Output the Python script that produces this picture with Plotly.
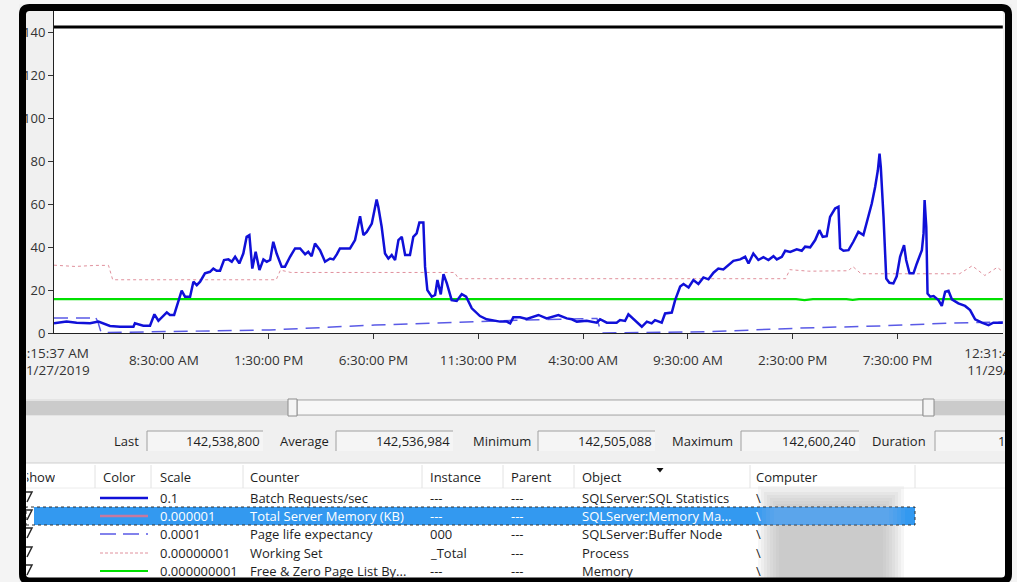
import plotly.graph_objects as go
import pandas as pd

# ------------------------------------------------------------------ data
log_start = "2019-11-27 03:15:37"
log_end = "2019-11-29 00:31:47"

# Batch Requests/sec (scale 0.1) - elapsed hours since log start, scaled value
batch_hours = [0.0, 0.60, 1.08, 1.72, 2.12, 2.35, 2.67, 3.15, 3.79, 3.86, 4.10, 4.26, 4.58, 4.66, 4.79,
               4.98, 5.22, 5.38, 5.53, 5.73, 5.85, 6.09, 6.25, 6.49, 6.65, 6.81, 6.97, 7.20, 7.44, 7.60,
               7.76, 7.92, 8.11, 8.32, 8.48, 8.64, 8.84, 9.03, 9.19, 9.32, 9.46, 9.62, 9.80, 9.99, 10.15,
               10.31, 10.46, 10.62, 10.86, 11.02, 11.26, 11.50, 11.74, 11.98, 12.13, 12.29, 12.45, 12.69,
               12.93, 13.17, 13.33, 13.49, 13.64, 14.12, 14.36, 14.60, 14.76, 14.92, 15.16, 15.39, 15.47,
               15.63, 15.79, 15.95, 16.11, 16.27, 16.43, 16.59, 16.75, 16.98, 17.14, 17.30, 17.43, 17.62,
               17.70, 17.81, 18.02, 18.18, 18.29, 18.45, 18.58, 18.74, 18.97, 19.21, 19.45, 19.66, 19.93,
               20.32, 20.64, 20.96, 21.28, 21.60, 21.76, 21.91, 22.23, 22.55, 23.11, 23.50, 24.06, 24.46,
               24.70, 24.94, 25.41, 25.89, 26.05, 26.37, 26.84, 27.00, 27.24, 27.40, 27.64, 28.04, 28.28,
               28.51, 28.67, 28.99, 29.15, 29.47, 29.63, 29.87, 30.03, 30.27, 30.50, 30.74, 30.98, 31.22,
               31.46, 31.69, 31.93, 32.18, 32.41, 32.73, 32.97, 33.13, 33.36, 33.60, 33.84, 34.08, 34.32,
               34.48, 34.72, 34.88, 35.12, 35.43, 35.67, 35.83, 36.07, 36.31, 36.51, 36.67, 36.86, 37.02,
               37.26, 37.42, 37.50, 37.66, 37.90, 38.13, 38.37, 38.61, 38.77, 39.01, 39.17, 39.30, 39.38,
               39.44, 39.57, 39.70, 39.85, 40.04, 40.20, 40.36, 40.55, 40.65, 40.81, 41.00, 41.16, 41.29,
               41.40, 41.48, 41.53, 41.61, 41.67, 41.80, 41.96, 42.19, 42.35, 42.51, 42.67, 42.83, 43.14,
               43.46, 43.70, 43.94, 44.26, 44.58, 44.81, 45.26]
batch_values = [4.5, 5.3, 4.8, 4.5, 5.3, 4.5, 3.3, 2.9, 2.9, 4.5, 3.8, 3.4, 3.4, 5.3, 8.7,
                5.7, 7.9, 9.6, 8.4, 8.4, 12.2, 19.7, 16.9, 16.9, 23.9, 22.3, 23.9, 27.8, 28.5, 30.0,
                29.0, 29.0, 34.0, 34.3, 33.2, 35.5, 32.4, 37.0, 44.8, 45.6, 30.0, 37.8, 29.3, 34.3, 33.2,
                34.0, 42.5, 37.0, 30.9, 30.9, 35.5, 39.4, 39.4, 36.7, 37.8, 35.8, 41.7, 38.6,
                33.2, 34.7, 34.3, 36.6, 39.4, 39.4, 43.3, 54.4, 45.6, 47.1, 51.0, 62.2, 58.8,
                49.5, 37.0, 34.7, 36.3, 34.0, 43.3, 44.8, 36.3, 36.3, 44.8, 46.4, 51.5, 51.5,
                30.9, 20.0, 16.9, 17.7, 24.7, 18.0, 27.4, 23.1, 15.3, 14.9, 18.1, 16.9, 11.5,
                7.9, 6.4, 5.7, 5.3, 5.3, 4.5, 7.3, 7.3, 6.5, 8.4, 6.8, 8.4, 6.8,
                6.4, 5.3, 5.7, 4.8, 6.4, 4.8, 4.8, 6.0, 5.6, 8.7, 6.4, 2.9, 5.3,
                4.5, 6.0, 4.8, 9.1, 9.5, 15.3, 21.6, 22.8, 21.2, 24.7, 22.8, 25.9, 25.0,
                28.1, 30.0, 29.6, 31.6, 33.6, 34.3, 35.5, 32.4, 37.0, 34.0, 35.3, 34.0, 35.8,
                34.3, 35.5, 38.3, 37.8, 39.0, 38.3, 40.2, 39.9, 43.3, 47.9, 44.8, 45.1, 54.1,
                58.0, 58.8, 39.4, 38.3, 38.6, 42.5, 47.1, 45.6, 51.0, 60.3, 68.0, 75.8, 83.6,
                77.4, 54.1, 25.4, 23.4, 23.1, 26.4, 35.5, 40.9, 34.0, 27.8, 27.8, 32.4, 35.5,
                38.6, 46.4, 61.9, 49.5, 18.4, 16.9, 17.2, 15.3, 12.6, 19.2, 19.7, 15.7, 13.8,
                12.6, 10.7, 6.4, 4.8, 3.7, 4.8, 4.8]

# Page life expectancy (scale 0.0001)
ple_hours = [0.0, 1.8, 1.95, 2.1, 2.25, 5.3, 10.3, 15.3, 20.3, 22.2, 25.9, 26.0, 26.1, 28.9, 31.3,
             35.6, 39.4, 42.7, 45.26]
ple_values = [7.0, 7.0, 8.0, 5.0, 0.2, 0.6, 1.4, 3.7, 5.3, 6.0, 6.8, 3.0, 0.0, 0.3, 0.6,
              2.3, 3.3, 4.6, 5.1]

# Working Set (scale 0.00000001)
ws_hours = [0.0, 1.0, 2.0, 2.6, 2.8, 6.0, 10.6, 10.8, 11.3, 15.0, 19.1, 19.3, 25.0, 34.9, 35.1,
            36.0, 37.9, 38.1, 38.5, 42.6, 43.2, 43.8, 44.4, 45.0, 45.26]
ws_values = [31.6, 31.0, 31.5, 31.5, 24.8, 24.8, 24.8, 29.3, 28.2, 28.2, 28.2, 25.3, 25.3, 25.3, 29.5,
             28.8, 29.0, 31.0, 27.6, 27.6, 27.6, 31.3, 26.8, 30.6, 28.5]

# Free & Zero Page List Bytes (scale 0.000000001)
free_hours = [0.0, 35.4, 35.8, 36.2, 37.8, 38.1, 38.4, 45.26]
free_values = [15.8, 15.8, 15.3, 15.8, 15.8, 15.4, 15.8, 15.8]

# Total Server Memory (KB) (scale 0.000001) - highlighted counter
tsm_hours = [0.0, 9.0, 18.0, 27.0, 36.0, 45.26]
tsm_kb = [142560000, 142505088, 142548000, 142600240, 142530000, 142538800]

x_tick_times = ["2019-11-27 08:30", "2019-11-27 13:30", "2019-11-27 18:30", "2019-11-27 23:30",
                "2019-11-28 04:30", "2019-11-28 09:30", "2019-11-28 14:30", "2019-11-28 19:30"]
x_tick_labels = ["8:30:00 AM", "1:30:00 PM", "6:30:00 PM", "11:30:00 PM",
                 "4:30:00 AM", "9:30:00 AM", "2:30:00 PM", "7:30:00 PM"]
edge_tick_labels = ["3:15:37 AM<br>11/27/2019", "12:31:47 AM<br>11/29/2019"]
y_ticks = [0, 20, 40, 60, 80, 100, 120, 140]

stat_labels = ["Last", "Average", "Minimum", "Maximum", "Duration"]
stat_values = ["142,538,800", "142,536,984", "142,505,088", "142,600,240", "1:21:16:10"]

table_headers = ["Show", "Color", "Scale", "Counter", "Instance", "Parent", "Object", "Computer"]
counter_names = ["Batch Requests/sec", "Total Server Memory (KB)", "Page life expectancy",
                 "Working Set", "Free & Zero Page List By..."]
counter_scales = ["0.1", "0.000001", "0.0001", "0.00000001", "0.000000001"]
counter_instances = ["---", "---", "000", "_Total", "---"]
counter_parents = ["---", "---", "---", "---", "---"]
counter_objects = ["SQLServer:SQL Statistics", "SQLServer:Memory Ma...", "SQLServer:Buffer Node",
                   "Process", "Memory"]
counter_colors = ["#1010d8", "#c8789e", "#5a5ae6", "#e0909c", "#00e000"]
counter_dashes = ["solid", "solid", "16px,7px", "3px,2px", "solid"]
counter_widths = [2.5, 2.5, 1.5, 1, 2]
selected_row = 1
highlight_color = "#000000"

# ------------------------------------------------------------------ geometry helpers
W, H = 1017, 582
PL, PR, PT, PB = 54, 1003, 11, 333
FONT = "Open Sans"


def px(x):
    return (x - PL) / (PR - PL)


def py(y):
    return (PB - y) / (PB - PT)


def rect(x0, y0, x1, y1, fill=None, line=None, lw=1):
    return dict(type="rect", xref="paper", yref="paper", layer="above",
                x0=px(x0), x1=px(x1), y0=py(y1), y1=py(y0),
                fillcolor=fill if fill else "rgba(0,0,0,0)",
                line=dict(color=line if line else "rgba(0,0,0,0)", width=lw if line else 0))


def hline(x0, x1, y, color, width=1, dash="solid"):
    return dict(type="line", xref="paper", yref="paper", layer="above",
                x0=px(x0), x1=px(x1), y0=py(y), y1=py(y),
                line=dict(color=color, width=width, dash=dash))


def vline(x, y0, y1, color, width=1):
    return dict(type="line", xref="paper", yref="paper", layer="above",
                x0=px(x), x1=px(x), y0=py(y0), y1=py(y1),
                line=dict(color=color, width=width))


def text(t, x, y, anchor="left", color="#1e1e1e", size=13, **kw):
    d = dict(text=t, x=px(x), y=py(y), xref="paper", yref="paper", xanchor=anchor,
             yanchor="middle", showarrow=False, font=dict(family=FONT, size=size, color=color))
    d.update(kw)
    return d


start = pd.Timestamp(log_start)
range_end = pd.Timestamp(log_end) + pd.Timedelta(seconds=1)


def to_time(hours):
    return [start + pd.Timedelta(hours=h) for h in hours]


# ------------------------------------------------------------------ traces
fig = go.Figure()
fig.add_trace(go.Scatter(x=to_time(ple_hours), y=ple_values, mode="lines",
                         line=dict(color=counter_colors[2], width=1.5, dash="14px,8px")))
fig.add_trace(go.Scatter(x=to_time(ws_hours), y=ws_values, mode="lines",
                         line=dict(color=counter_colors[3], width=1, dash="3px,3px")))
fig.add_trace(go.Scatter(x=to_time(free_hours), y=free_values, mode="lines",
                         line=dict(color=counter_colors[4], width=2.2)))
fig.add_trace(go.Scatter(x=to_time(batch_hours), y=batch_values, mode="lines",
                         line=dict(color=counter_colors[0], width=2.5)))
fig.add_trace(go.Scatter(x=to_time(tsm_hours), y=[v * 0.000001 for v in tsm_kb], mode="lines",
                         xaxis="x2", line=dict(color=highlight_color, width=3)))

tick_font = dict(family=FONT, size=13, color="#333333")
xtick_font = dict(family=FONT, size=13.5, color="#333333")

# ------------------------------------------------------------------ panel shapes
shapes = []
# scrollbar
shapes.append(rect(26, 399, 1005, 416, fill="#e4e4e4"))
shapes.append(rect(26, 401, 288, 415, fill="#cbcbcb"))
shapes.append(rect(934, 401, 1005, 415, fill="#cbcbcb"))
shapes.append(rect(297, 400, 923, 415, fill="#f7f7f7", line="#a8a8a8"))
shapes.append(rect(288, 399, 297, 416, fill="#f4f4f4", line="#8c8c8c"))
shapes.append(rect(923, 399, 934, 416, fill="#f4f4f4", line="#8c8c8c"))

# stat boxes
box_ranges = [(147, 263), (336, 453), (538, 655), (741, 859), (935, 1010)]
for (b0, b1) in box_ranges:
    shapes.append(rect(b0, 431, b1, 451, fill="#f5f5f5"))
    shapes.append(hline(b0, b1, 431, "#a0a0a0"))
    shapes.append(vline(b0, 431, 451, "#a0a0a0"))

# table
shapes.append(rect(26, 463, 1005, 585, fill="#ffffff"))
shapes.append(hline(26, 1005, 463, "#cfcfcf"))
shapes.append(hline(26, 1005, 488, "#ececec"))
header_seps = [95, 151, 243, 422, 503, 574, 750, 915]
for s in header_seps:
    shapes.append(vline(s, 465, 488, "#e2e2e2"))
# sort arrow
shapes.append(dict(type="path", xref="paper", yref="paper", layer="above",
                   path=f"M {px(656.5)},{py(468)} L {px(663.5)},{py(468)} L {px(660)},{py(472.5)} Z",
                   fillcolor="#111111", line=dict(width=0)))
# blurred computer names
for k in range(8):
    d = 3 * k
    shapes.append(rect(758 + d, 486 + d, 904 - d, 585, fill="rgba(175,175,175,0.11)"))

row_y = [498, 516, 534, 553, 571]
# selected row
shapes.append(rect(34, 507, 915, 525, fill="#3399f0"))
sel = rect(26, 507, 915, 525, line="#333333", lw=1)
sel["line"]["dash"] = "dot"
shapes.append(sel)
for k in range(5):
    d = 4 * k
    shapes.append(rect(758 + d, 507.5, 905 - d, 524.5, fill="rgba(130,180,235,0.14)"))

# colour swatches and (cut-off) show check marks
for i, yv in enumerate(row_y):
    shapes.append(hline(100, 148, yv, counter_colors[i], counter_widths[i], counter_dashes[i]))
    shapes.append(dict(type="path", xref="paper", yref="paper", layer="above",
                       path=f"M {px(26)},{py(yv - 6)} L {px(32)},{py(yv - 6)} L {px(27)},{py(yv + 4)}",
                       line=dict(color="#2a2a2a", width=1.5)))

# outside strips and black frame
shapes.append(rect(0, 0, 19, H, fill="#f4f4f4"))
shapes.append(rect(0, 0, W, 4, fill="#f4f4f4"))
shapes.append(rect(1012, 0, W, H, fill="#f4f4f4"))
x0, y0, x1, y1, r = 22.5, 7.5, 1008.5, 581, 7
frame_path = (f"M {px(x0 + r)},{py(y0)} L {px(x1 - r)},{py(y0)} Q {px(x1)},{py(y0)} {px(x1)},{py(y0 + r)} "
              f"L {px(x1)},{py(y1 - r)} Q {px(x1)},{py(y1)} {px(x1 - r)},{py(y1)} "
              f"L {px(x0 + r)},{py(y1)} Q {px(x0)},{py(y1)} {px(x0)},{py(y1 - r)} "
              f"L {px(x0)},{py(y0 + r)} Q {px(x0)},{py(y0)} {px(x0 + r)},{py(y0)} Z")
shapes.append(dict(type="path", xref="paper", yref="paper", layer="above", path=frame_path,
                   fillcolor="rgba(0,0,0,0)", line=dict(color="#000000", width=7)))

# ------------------------------------------------------------------ panel texts
annotations = []
label_right = [141, 331, 533, 735, 928]
for lab, xr in zip(stat_labels, label_right):
    annotations.append(text(lab, xr, 441, anchor="right"))
for i, (val, (b0, b1)) in enumerate(zip(stat_values, box_ranges)):
    if i < 4:
        annotations.append(text(val, b1 - 1, 441, anchor="right"))
    else:
        # the duration box runs under the window frame: clip the text to the visible part
        annotations.append(text(val, 997, 441, anchor="left", width=6, align="left",
                                borderpad=0))

header_x = [17, 101, 158, 248, 428, 509, 580, 754]
for h_, hx in zip(table_headers, header_x):
    if h_ == "Show":
        annotations.append(text(h_, 26, 477, anchor="left", width=28, align="right",
                                borderpad=0))
    else:
        annotations.append(text(h_, hx, 477))

for i, yv in enumerate(row_y):
    c = "#ffffff" if i == selected_row else "#1e1e1e"
    annotations.append(text(counter_scales[i], 158, yv, color=c))
    annotations.append(text(counter_names[i], 248, yv, color=c))
    annotations.append(text(counter_instances[i], 428, yv, color=c))
    annotations.append(text(counter_parents[i], 509, yv, color=c))
    annotations.append(text(counter_objects[i], 580, yv, color=c))
    annotations.append(text("\\", 754, yv, color=c))

# ------------------------------------------------------------------ layout
fig.update_layout(
    width=W, height=H,
    margin=dict(l=PL, r=W - PR, t=PT, b=H - PB, pad=0, autoexpand=False),
    paper_bgcolor="#f0f0f0",
    plot_bgcolor="#ffffff",
    showlegend=False,
    hovermode=False,
    xaxis=dict(type="date", range=[start, range_end], tickmode="array",
               tickvals=x_tick_times, ticktext=x_tick_labels,
               ticks="outside", ticklen=5, tickcolor="#333333", tickwidth=1,
               showline=True, linecolor="#222222", linewidth=1, automargin=False,
               showgrid=False, zeroline=False, tickfont=xtick_font, ticklabelstandoff=10,
               fixedrange=True),
    xaxis2=dict(type="date", range=[start, range_end], overlaying="x", anchor="y", side="bottom",
                tickmode="array", tickvals=[log_start, log_end], ticktext=edge_tick_labels,
                ticks="", showline=False, showgrid=False, zeroline=False, automargin=False,
                tickfont=xtick_font, ticklabelstandoff=10, ticklabeloverflow="allow",
                fixedrange=True),
    yaxis=dict(range=[0, 150], tickmode="array", tickvals=y_ticks,
               ticks="outside", ticklen=5, tickcolor="#333333", tickwidth=1,
               showline=True, linecolor="#222222", linewidth=1, automargin=False,
               showgrid=False, zeroline=False, tickfont=tick_font, fixedrange=True),
    shapes=shapes,
    annotations=annotations,
)

fig.write_html("out.html", config={"displayModeBar": False},
               post_script="document.body.style.margin='0';document.body.style.overflow='hidden';")
